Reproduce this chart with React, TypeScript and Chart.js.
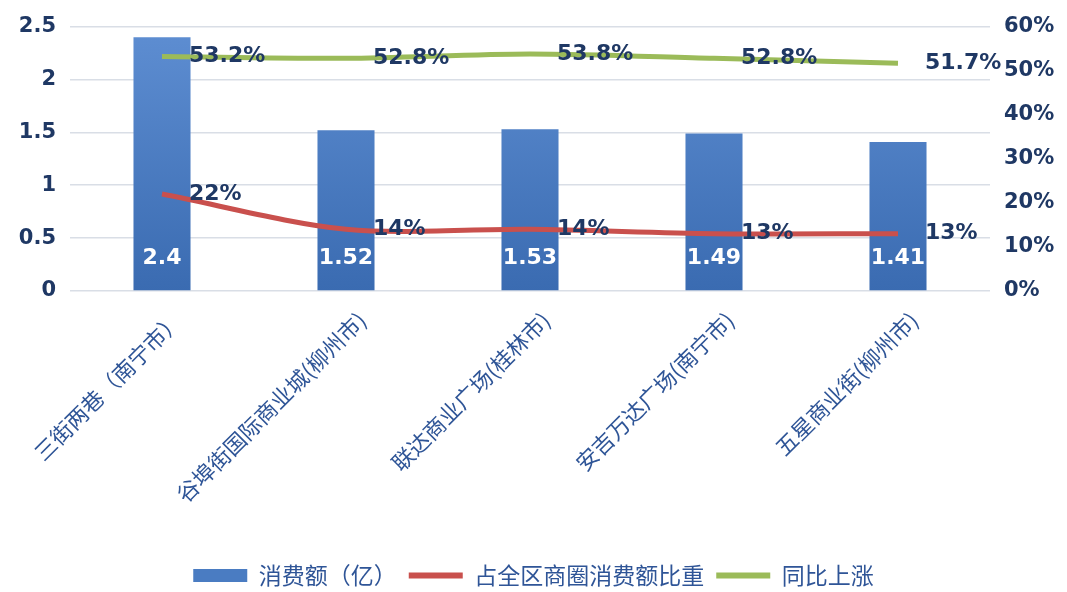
import React, { useEffect, useRef } from "react";
import { Chart, registerables } from "chart.js";

Chart.register(...registerables);

const categories = [
  "三街两巷（南宁市）",
  "谷埠街国际商业城(柳州市)",
  "联达商业广场(桂林市)",
  "安吉万达广场(南宁市)",
  "五星商业街(柳州市)",
];
const consumption = [2.4, 1.52, 1.53, 1.49, 1.41];
const consumptionLabels = ["2.4", "1.52", "1.53", "1.49", "1.41"];
const shareOfDistrict = [0.22, 0.14, 0.14, 0.13, 0.13];
const shareLabels = ["22%", "14%", "14%", "13%", "13%"];
const yoyRise = [0.532, 0.528, 0.538, 0.528, 0.517];
const yoyLabels = ["53.2%", "52.8%", "53.8%", "52.8%", "51.7%"];
const leftTickLabels = ["0", "0.5", "1", "1.5", "2", "2.5"];
const rightTickLabels = ["0%", "10%", "20%", "30%", "40%", "50%", "60%"];
const seriesNames = ["消费额（亿）", "占全区商圈消费额比重", "同比上涨"];

const NAVY = "#1F3864";
const AXIS_FONT = '"DejaVu Sans", Verdana, sans-serif';
const CJK_FONT = '"Noto Sans CJK SC", sans-serif';
const BAR_COLOR = "#4A7CC2";
const RED = "#C9504D";
const GREEN = "#9BBB59";

const valueLabels = {
  id: "valueLabels",
  afterDatasetsDraw(chart: any) {
    const ctx = chart.ctx;
    ctx.save();
    ctx.textBaseline = "middle";
    ctx.font = `bold 22px ${AXIS_FONT}`;
    ctx.textAlign = "center";
    ctx.fillStyle = "#ffffff";
    chart.getDatasetMeta(0).data.forEach((el: any, i: number) => {
      const p = el.getProps(["x", "base"], true);
      ctx.fillText(consumptionLabels[i], p.x, p.base - 32);
    });
    ctx.textAlign = "left";
    ctx.fillStyle = NAVY;
    chart.getDatasetMeta(1).data.forEach((el: any, i: number) => {
      const p = el.getProps(["x", "y"], true);
      ctx.fillText(shareLabels[i], p.x + 27, p.y);
    });
    chart.getDatasetMeta(2).data.forEach((el: any, i: number) => {
      const p = el.getProps(["x", "y"], true);
      ctx.fillText(yoyLabels[i], p.x + 27, p.y);
    });
    ctx.restore();
  },
};

export default function App() {
  const ref = useRef<HTMLCanvasElement>(null);
  useEffect(() => {
    document.body.style.margin = "0";
    const canvas = ref.current;
    if (!canvas) return;
    const chart = new Chart(canvas, {
      type: "bar",
      data: {
        labels: categories,
        datasets: [
          {
            type: "bar",
            label: seriesNames[0],
            data: consumption,
            yAxisID: "y",
            order: 3,
            barPercentage: 0.62,
            categoryPercentage: 0.5,
            backgroundColor: (c: any) => {
              const area = c.chart.chartArea;
              if (!area) return BAR_COLOR;
              const g = c.chart.ctx.createLinearGradient(0, area.top, 0, area.bottom);
              g.addColorStop(0, "#5E8ED2");
              g.addColorStop(1, "#3A6BB1");
              return g;
            },
            borderWidth: 0,
          },
          {
            type: "line",
            label: seriesNames[1],
            data: shareOfDistrict,
            yAxisID: "y1",
            order: 1,
            borderColor: RED,
            backgroundColor: RED,
            borderWidth: 5,
            pointRadius: 0,
            tension: 0.3,
          },
          {
            type: "line",
            label: seriesNames[2],
            data: yoyRise,
            yAxisID: "y1",
            order: 0,
            borderColor: GREEN,
            backgroundColor: GREEN,
            borderWidth: 5,
            pointRadius: 0,
            tension: 0.3,
          },
        ],
      },
      options: {
        animation: false,
        responsive: true,
        maintainAspectRatio: false,
        layout: { padding: { top: 25, left: 0, right: 0, bottom: -5 } },
        plugins: {
          tooltip: { enabled: false },
          legend: {
            position: "bottom",
            labels: {
              font: { family: CJK_FONT, size: 23 },
              color: "#2F5597",
              usePointStyle: true,
              pointStyleWidth: 54,
              boxHeight: 13,
              boxWidth: 54,
              padding: 12,
              generateLabels: (ch: any) => {
                const items = Chart.defaults.plugins.legend.labels.generateLabels(ch);
                items.sort((a: any, b: any) => a.datasetIndex - b.datasetIndex);
                return items.map((it: any) => {
                  const i = it.datasetIndex;
                  if (i === 0) {
                    return { ...it, pointStyle: "rect", fillStyle: BAR_COLOR, lineWidth: 0, strokeStyle: BAR_COLOR };
                  }
                  const col = i === 1 ? RED : GREEN;
                  return { ...it, pointStyle: "line", strokeStyle: col, fillStyle: col, lineWidth: 6 };
                });
              },
            },
          },
        },
        scales: {
          x: {
            grid: { display: false },
            border: { display: false },
            ticks: {
              autoSkip: false,
              minRotation: 45,
              maxRotation: 45,
              padding: 8,
              labelOffset: 16,
              color: "#2F5597",
              font: { family: CJK_FONT, size: 22 },
            },
            afterFit: (s: any) => {
              s.height = 261;
            },
          },
          y: {
            position: "left",
            min: 0,
            max: 2.5,
            ticks: {
              stepSize: 0.5,
              color: NAVY,
              padding: 14,
              font: { family: AXIS_FONT, size: 21, weight: "bold" },
              callback: (_v: any, i: number) => leftTickLabels[i],
            },
            grid: { color: "#D9DEE6", lineWidth: 1.5, drawTicks: false },
            border: { display: false },
            afterFit: (s: any) => {
              s.width = 70;
            },
          },
          y1: {
            position: "right",
            min: 0,
            max: 0.6,
            ticks: {
              stepSize: 0.1,
              color: NAVY,
              padding: 14,
              font: { family: AXIS_FONT, size: 21, weight: "bold" },
              callback: (_v: any, i: number) => rightTickLabels[i],
            },
            grid: { display: false, drawTicks: false },
            border: { display: false },
            afterFit: (s: any) => {
              s.width = 77;
            },
          },
        },
      },
      plugins: [valueLabels],
    } as any);
    return () => chart.destroy();
  }, []);
  return (
    <div style={{ position: "relative", width: 1067, height: 592, background: "#fff" }}>
      <canvas ref={ref} />
    </div>
  );
}
